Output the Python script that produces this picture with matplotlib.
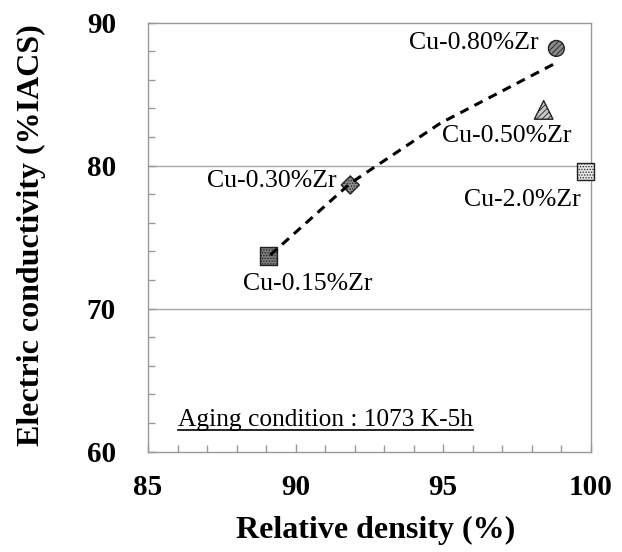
import matplotlib
matplotlib.use("Agg")
import matplotlib.pyplot as plt
from matplotlib.ticker import MultipleLocator
from matplotlib.lines import Line2D

plt.rcParams['font.family'] = ['Liberation Serif', 'DejaVu Serif']
plt.rcParams['hatch.linewidth'] = 0.6

# alloys
alloys   = ["Cu-0.15%Zr", "Cu-0.30%Zr", "Cu-0.50%Zr", "Cu-0.80%Zr", "Cu-2.0%Zr"]
density  = [89.08, 91.85, 98.40, 98.83, 99.82]   # relative density (%)
conduct  = [73.7, 78.65, 83.9, 88.2, 79.6]       # electric conductivity (%IACS)

# dashed trend line
trend_x = [89.14, 91.85, 94.9, 97.16, 98.83]
trend_y = [73.75, 78.77, 82.97, 85.4, 87.2]

# marker look per alloy
styles = {
    "Cu-0.15%Zr": dict(marker='s', s=160, fc='#7a7a7a', hatch='......'),
    "Cu-0.30%Zr": dict(marker='D', s=85,  fc='#8c8c8c', hatch='......'),
    "Cu-0.50%Zr": dict(marker='^', s=180, fc='#c8c8c8', hatch='//////'),
    "Cu-0.80%Zr": dict(marker='o', s=130, fc='#8a8a8a', hatch='//////'),
    "Cu-2.0%Zr":  dict(marker='s', s=160, fc='#e4e4e4', hatch='......'),
}
# label offsets in points (dx, dy, ha)
label_pos = {
    "Cu-0.15%Zr": (28, -20.4, 'center'),
    "Cu-0.30%Zr": (-9.6, 3.1, 'right'),
    "Cu-0.50%Zr": (20.4, -18.5, 'right'),
    "Cu-0.80%Zr": (-13, 3.6, 'right'),
    "Cu-2.0%Zr":  (-3.8, -20.4, 'right'),
}

fig = plt.figure(figsize=(6.22, 5.52), dpi=100)
ax = fig.add_axes([0.238, 0.1817, 0.712, 0.7772])

ax.set_xlim(85, 100)
ax.set_ylim(60, 90)

for yv in (70, 80):
    ax.axhline(yv, color='#a8a8a8', lw=1.0, zorder=1)

for name, x, y in zip(alloys, density, conduct):
    st = styles[name]
    ax.scatter(x, y, marker=st['marker'], s=st['s'], facecolor=st['fc'],
               edgecolor='#222222', hatch=st['hatch'], linewidths=1.0,
               zorder=3, clip_on=False)
    dx, dy, ha = label_pos[name]
    ax.annotate(name, (x, y), xytext=(dx, dy), textcoords='offset points',
                ha=ha, va='center', fontsize=18.5, zorder=5)

ax.plot(trend_x, trend_y, color='black', lw=2.2, ls=(0, (3.0, 2.2)), zorder=4)

# spines and ticks
for sp in ax.spines.values():
    sp.set_color('#999999')
    sp.set_linewidth(1.0)

ax.xaxis.set_major_locator(MultipleLocator(5))
ax.xaxis.set_minor_locator(MultipleLocator(1))
ax.yaxis.set_major_locator(MultipleLocator(10))
ax.yaxis.set_minor_locator(MultipleLocator(2))
ax.tick_params(which='both', direction='in', color='#999999', width=1.0)
ax.tick_params(which='major', length=6)
ax.tick_params(which='minor', length=5)
ax.tick_params(axis='x', which='major', pad=16, labelsize=21)
ax.tick_params(axis='y', which='major', pad=23, labelsize=21)
for lab in ax.get_xticklabels() + ax.get_yticklabels():
    lab.set_fontweight('bold')

ax.set_xlabel("Relative density (%)", fontsize=23, fontweight='bold', va='center')
ax.xaxis.set_label_coords(0.515, -0.1825)
ax.set_ylabel("Electric conductivity (%IACS)", fontsize=23, fontweight='bold', va='center')
ax.yaxis.set_label_coords(-0.2625, 0.505)

# underlined aging note
note = ax.text(0.0677, 0.0606, "Aging condition : 1073 K-5h", transform=ax.transAxes,
               fontsize=18.3, ha='left', va='baseline')
fig.canvas.draw()
bb = note.get_window_extent()
inv = ax.transAxes.inverted()
(x0, y0), (x1, _) = inv.transform([(bb.x0, bb.y0 + 1), (bb.x1, bb.y0 + 1)])
ax.add_line(Line2D([x0, x1], [y0, y0], transform=ax.transAxes, color='black', lw=1.2))

plt.savefig("out.png", dpi=100)
